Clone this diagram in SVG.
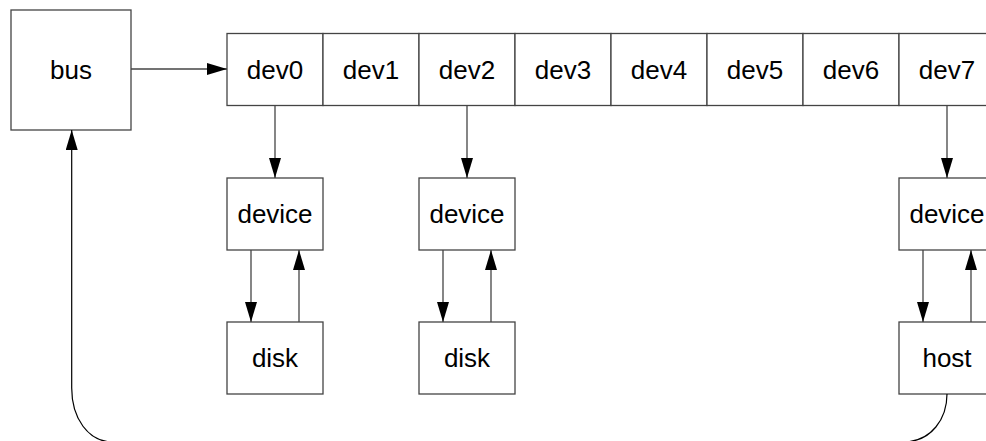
<svg xmlns="http://www.w3.org/2000/svg" width="986" height="441" viewBox="0 0 986 441">
  <style>
    .box { fill: #ffffff; stroke: #444444; stroke-width: 1.3; }
    .label { font-family: "Liberation Sans", Arial, sans-serif; font-size: 26px; fill: #000000; text-anchor: middle; }
    .link { fill: none; stroke: #444444; stroke-width: 1.3; marker-end: url(#head); }
    .loop { fill: none; stroke: #000000; stroke-width: 1.2; marker-end: url(#head); }
  </style>
  <defs>
    <marker id="head" markerUnits="userSpaceOnUse" markerWidth="20" markerHeight="12" refX="20" refY="6" orient="auto">
      <path d="M0,0 L20,6 L0,12 Z" fill="#000000"/>
    </marker>
  </defs>

  <rect width="986" height="441" fill="#ffffff"/>

  <!-- bus -->
  <g id="bus">
    <rect class="box" x="11" y="10" width="120" height="120"/>
    <text class="label" x="71" y="79">bus</text>
  </g>

  <!-- device slot array -->
  <g id="dev0">
    <rect class="box" x="227" y="33.5" width="96" height="72"/>
    <text class="label" x="275" y="79">dev0</text>
  </g>
  <g id="dev1">
    <rect class="box" x="323" y="33.5" width="96" height="72"/>
    <text class="label" x="371" y="79">dev1</text>
  </g>
  <g id="dev2">
    <rect class="box" x="419" y="33.5" width="96" height="72"/>
    <text class="label" x="467" y="79">dev2</text>
  </g>
  <g id="dev3">
    <rect class="box" x="515" y="33.5" width="96" height="72"/>
    <text class="label" x="563" y="79">dev3</text>
  </g>
  <g id="dev4">
    <rect class="box" x="611" y="33.5" width="96" height="72"/>
    <text class="label" x="659" y="79">dev4</text>
  </g>
  <g id="dev5">
    <rect class="box" x="707" y="33.5" width="96" height="72"/>
    <text class="label" x="755" y="79">dev5</text>
  </g>
  <g id="dev6">
    <rect class="box" x="803" y="33.5" width="96" height="72"/>
    <text class="label" x="851" y="79">dev6</text>
  </g>
  <g id="dev7">
    <rect class="box" x="899" y="33.5" width="96" height="72"/>
    <text class="label" x="947" y="79">dev7</text>
  </g>

  <!-- device structures -->
  <g id="device0">
    <rect class="box" x="227" y="178" width="96" height="72"/>
    <text class="label" x="275" y="223">device</text>
  </g>
  <g id="device2">
    <rect class="box" x="419" y="178" width="96" height="72"/>
    <text class="label" x="467" y="223">device</text>
  </g>
  <g id="device7">
    <rect class="box" x="899" y="178" width="96" height="72"/>
    <text class="label" x="947" y="223">device</text>
  </g>

  <!-- backing objects -->
  <g id="disk0">
    <rect class="box" x="227" y="322" width="96" height="72"/>
    <text class="label" x="275" y="367">disk</text>
  </g>
  <g id="disk2">
    <rect class="box" x="419" y="322" width="96" height="72"/>
    <text class="label" x="467" y="367">disk</text>
  </g>
  <g id="host">
    <rect class="box" x="899" y="322" width="96" height="72"/>
    <text class="label" x="947" y="367">host</text>
  </g>

  <!-- connectors -->
  <g id="connectors">
    <path class="link" d="M131,69 L227,69"/>
    <path class="link" d="M275,105.5 L275,178"/>
    <path class="link" d="M467,105.5 L467,178"/>
    <path class="link" d="M947,105.5 L947,178"/>
    <path class="link" d="M251,250 L251,322"/>
    <path class="link" d="M299,322 L299,250"/>
    <path class="link" d="M443,250 L443,322"/>
    <path class="link" d="M491,322 L491,250"/>
    <path class="link" d="M923,250 L923,322"/>
    <path class="link" d="M971,322 L971,250"/>
    <path class="loop" d="M947,394 C947,418 932,442 903,442 L113,442 C88,442 71.7,418 71.7,388 L71.7,130"/>
  </g>
</svg>
